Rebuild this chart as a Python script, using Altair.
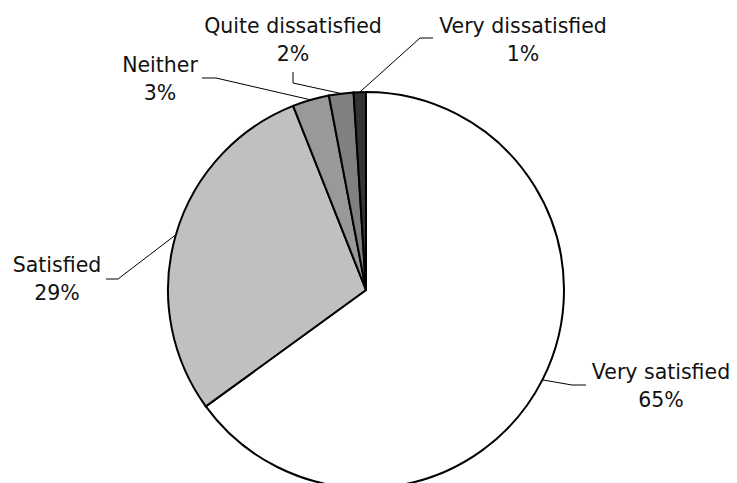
import math
import altair as alt
import pandas as pd

# Survey responses (share of respondents, %)
categories = ["Very satisfied", "Satisfied", "Neither", "Quite dissatisfied", "Very dissatisfied"]
shares = [65, 29, 3, 2, 1]
slice_colors = ["#ffffff", "#c0c0c0", "#999999", "#808080", "#333333"]

# Canvas and pie geometry
W, H = 737, 483
CX, CY, R = 366, 290, 198
FONT = "DejaVu Sans"

# Label layout: text centre x, first baseline y, leader elbow and leader end
label_x = [661, 57, 160, 293, 523]
label_y = [379, 272, 72, 33, 33]
elbow = [(572, 385), (118, 279), (216, 78), (293, 83), (420, 38)]
lead_end = [(586, 385), (106, 279), (202, 78), (293, 72), (433, 38)]

pie_df = pd.DataFrame({"cat": categories, "pct": shares, "idx": range(len(categories))})

# Leader lines start at the outer edge, at the middle angle of each slice
total = sum(shares)
rows = []
cum = 0
for i, (cat, v) in enumerate(zip(categories, shares)):
    mid = (cum + v / 2) / total * 2 * math.pi
    cum += v
    sx = CX + R * math.sin(mid)
    sy = CY - R * math.cos(mid)
    for step, (px, py) in enumerate([(sx, sy), elbow[i], lead_end[i]]):
        rows.append({"cat": cat, "step": step, "x": px, "y": py})
lead_df = pd.DataFrame(rows)

label_df = pd.DataFrame({
    "cat": categories,
    "text": [f"{c}\n{v}%" for c, v in zip(categories, shares)],
    "x": label_x,
    "y": label_y,
})

xs = alt.Scale(domain=[0, W], nice=False, zero=False)
ys = alt.Scale(domain=[0, H], nice=False, zero=False, reverse=True)

pie = alt.Chart(pie_df).mark_arc(outerRadius=R, stroke="black", strokeWidth=2).encode(
    theta=alt.Theta("pct:Q", stack=True),
    order=alt.Order("idx:Q"),
    color=alt.Color("cat:N", scale=alt.Scale(domain=categories, range=slice_colors), legend=None),
    x=alt.value(CX),
    y=alt.value(CY),
)

leaders = alt.Chart(lead_df).mark_line(color="black", strokeWidth=1).encode(
    x=alt.X("x:Q", scale=xs, axis=None),
    y=alt.Y("y:Q", scale=ys, axis=None),
    detail="cat:N",
    order="step:Q",
)

labels = alt.Chart(label_df).mark_text(
    font=FONT, fontSize=20.5, color="#111111", align="center",
    baseline="alphabetic", lineBreak="\n", lineHeight=28,
).encode(
    x=alt.X("x:Q", scale=xs, axis=None),
    y=alt.Y("y:Q", scale=ys, axis=None),
    text="text:N",
)

chart = alt.layer(pie, leaders, labels).properties(
    width=W, height=H, padding=0, autosize=alt.AutoSizeParams(type="none"),
    background="white",
).configure_view(stroke=None)

chart.save("out.html", embed_options={"renderer": "svg", "actions": False})
